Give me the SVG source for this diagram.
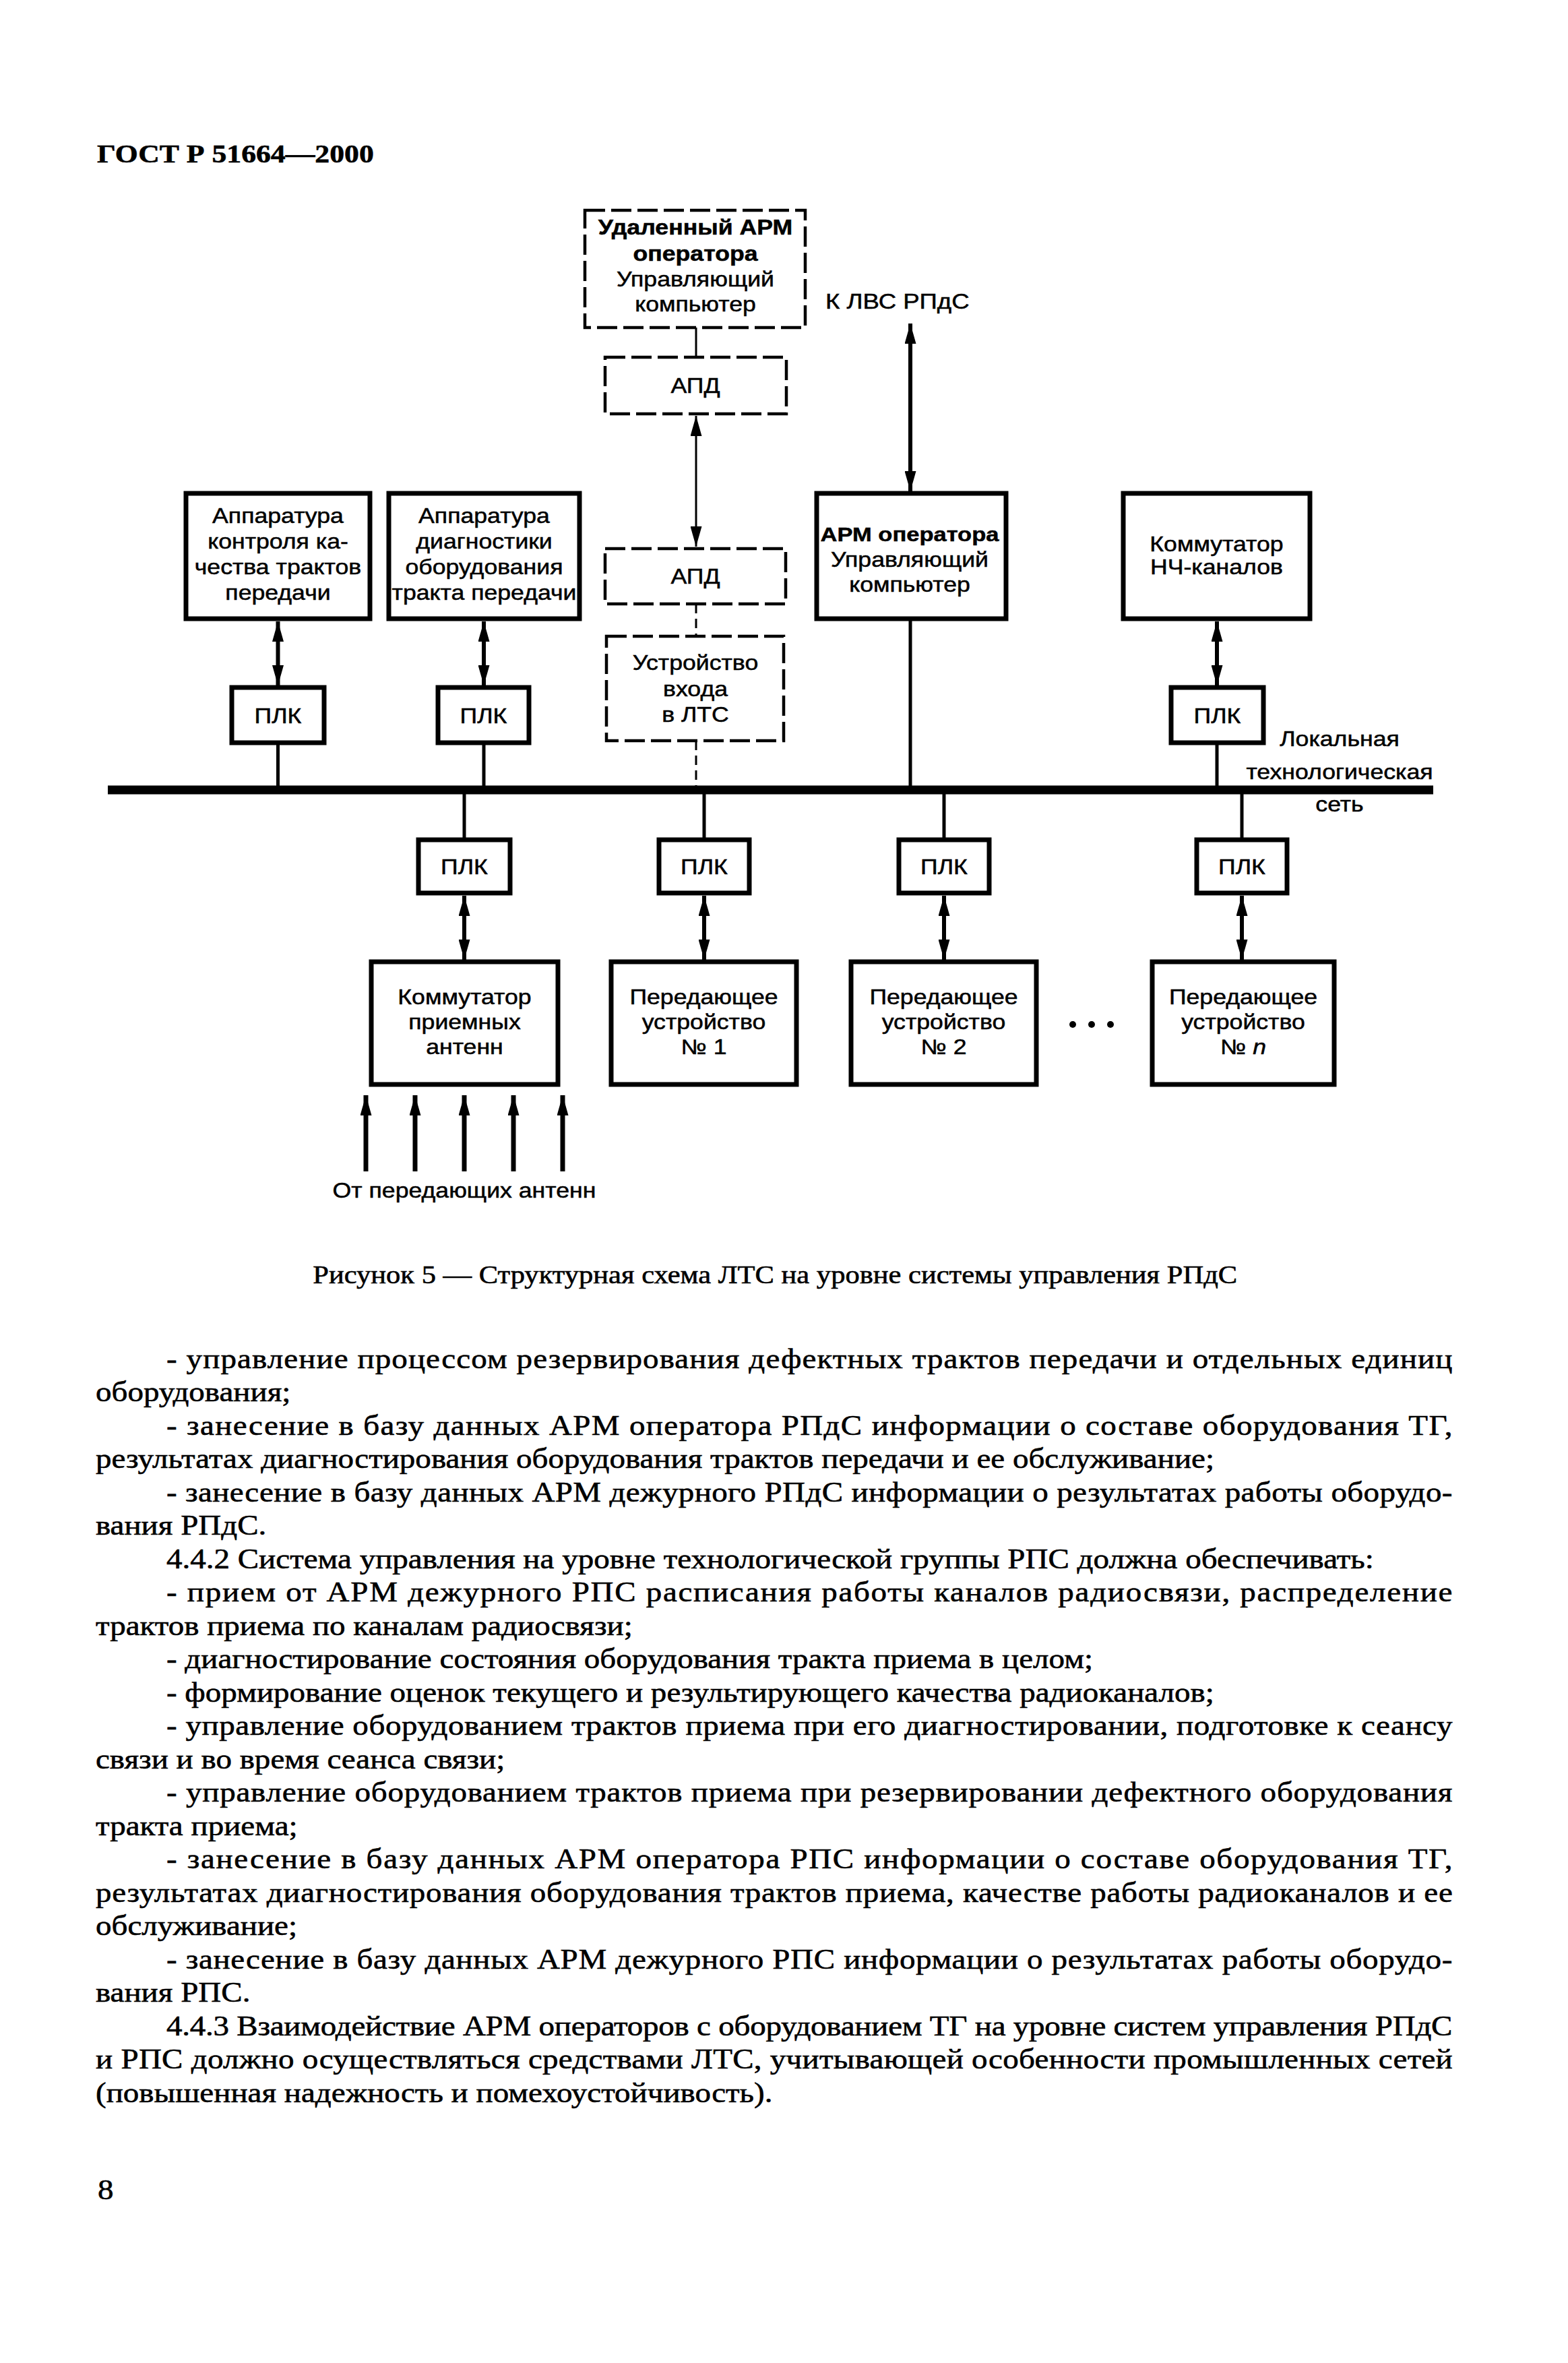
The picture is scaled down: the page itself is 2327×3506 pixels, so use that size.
<svg xmlns="http://www.w3.org/2000/svg" width="2327" height="3506" viewBox="0 0 2327 3506">
<defs>
<style>
.box{fill:#fff;stroke:#000;stroke-width:7}
.dbox{fill:#fff;stroke:#000;stroke-width:4.5;stroke-dasharray:30 9}
.s{font-family:"Liberation Sans",Arial,sans-serif;font-size:31px;text-anchor:middle;fill:#000;stroke:#000;stroke-width:0.5}
.st{font-family:"Liberation Sans",Arial,sans-serif;font-size:31px;fill:#000;stroke:#000;stroke-width:0.5}
.b{font-weight:bold}
.ln{stroke:#000;stroke-width:5;fill:none}
.thin{stroke:#000;stroke-width:3;fill:none}
.dl{stroke:#000;stroke-width:3;stroke-dasharray:14 8;fill:none}
.ar{stroke:#000;stroke-width:6;fill:none}
.ar3{stroke:#000;stroke-width:3;fill:none}
.bus{stroke:#000;stroke-width:13}
.body{font-family:"Liberation Serif","Times New Roman",serif;font-size:42px;fill:#000;stroke:#000;stroke-width:0.6}
</style>
<marker id="ah" markerUnits="userSpaceOnUse" markerWidth="30" markerHeight="17" refX="30" refY="8.5" orient="auto-start-reverse">
<path d="M0,0 L30,8.5 L0,17 Z" fill="#000"/>
</marker>
</defs>
<rect x="0" y="0" width="2327" height="3506" fill="#fff"/>

<g id="title" transform="translate(144 0) scale(1.15 1)">
<text class="body" style="font-weight:bold;font-size:38px" x="0" y="241">ГОСТ Р 51664—2000</text>
</g>

<g id="connectors">
<line class="thin" x1="1033" y1="486" x2="1033" y2="530"/>
<line class="ar3" x1="1033" y1="617" x2="1033" y2="811" marker-start="url(#ah)" marker-end="url(#ah)"/>
<line class="dl" x1="1033" y1="896" x2="1033" y2="944"/>
<line class="dl" x1="1033" y1="1099" x2="1033" y2="1166"/>
<line class="ar" x1="1351" y1="480" x2="1351" y2="729" marker-start="url(#ah)" marker-end="url(#ah)"/>
<line class="ln" x1="1351" y1="918" x2="1351" y2="1166"/>
<line class="ar" x1="412.5" y1="922" x2="412.5" y2="1017" marker-start="url(#ah)" marker-end="url(#ah)"/>
<line class="ar" x1="718" y1="922" x2="718" y2="1017" marker-start="url(#ah)" marker-end="url(#ah)"/>
<line class="ar" x1="1806" y1="922" x2="1806" y2="1017" marker-start="url(#ah)" marker-end="url(#ah)"/>
<line class="ln" x1="412.5" y1="1102" x2="412.5" y2="1166"/>
<line class="ln" x1="718" y1="1102" x2="718" y2="1166"/>
<line class="ln" x1="1806" y1="1102" x2="1806" y2="1166"/>
<line class="ln" x1="689" y1="1178" x2="689" y2="1246"/>
<line class="ln" x1="1045" y1="1178" x2="1045" y2="1246"/>
<line class="ln" x1="1401" y1="1178" x2="1401" y2="1246"/>
<line class="ln" x1="1843" y1="1178" x2="1843" y2="1246"/>
<line class="ar" x1="689" y1="1329" x2="689" y2="1424" marker-start="url(#ah)" marker-end="url(#ah)"/>
<line class="ar" x1="1045" y1="1329" x2="1045" y2="1424" marker-start="url(#ah)" marker-end="url(#ah)"/>
<line class="ar" x1="1401" y1="1329" x2="1401" y2="1424" marker-start="url(#ah)" marker-end="url(#ah)"/>
<line class="ar" x1="1843" y1="1329" x2="1843" y2="1424" marker-start="url(#ah)" marker-end="url(#ah)"/>
<line class="ar" x1="543" y1="1738" x2="543" y2="1625" marker-end="url(#ah)" style="stroke-width:7"/>
<line class="ar" x1="616" y1="1738" x2="616" y2="1625" marker-end="url(#ah)" style="stroke-width:7"/>
<line class="ar" x1="689" y1="1738" x2="689" y2="1625" marker-end="url(#ah)" style="stroke-width:7"/>
<line class="ar" x1="762" y1="1738" x2="762" y2="1625" marker-end="url(#ah)" style="stroke-width:7"/>
<line class="ar" x1="835" y1="1738" x2="835" y2="1625" marker-end="url(#ah)" style="stroke-width:7"/>
</g>

<g id="bus">
<line class="bus" x1="160" y1="1172" x2="2127" y2="1172"/>
</g>

<g id="node-remote-arm">
<rect class="dbox" x="868" y="312" width="327" height="174"/>
<g transform="translate(1032 0) scale(1.15 1)">
<text class="s b" y="348">Удаленный АРМ</text>
<text class="s b" y="387">оператора</text>
<text class="s" y="425">Управляющий</text>
<text class="s" y="462">компьютер</text>
</g>
</g>

<g id="node-apd1">
<rect class="dbox" x="898" y="530" width="269" height="84"/>
<g transform="translate(1032 0) scale(1.15 1)"><text class="s" y="583">АПД</text></g>
</g>

<g id="node-apd2">
<rect class="dbox" x="898" y="814" width="268" height="82"/>
<g transform="translate(1032 0) scale(1.15 1)"><text class="s" y="866">АПД</text></g>
</g>

<g id="node-entry">
<rect class="dbox" x="900" y="944" width="263" height="155"/>
<g transform="translate(1032 0) scale(1.15 1)">
<text class="s" y="994">Устройство</text>
<text class="s" y="1033">входа</text>
<text class="s" y="1071">в ЛТС</text>
</g>
</g>

<g id="label-lvs" transform="translate(1225 0) scale(1.18 1)">
<text class="st" x="0" y="458">К ЛВС РПдС</text>
</g>

<g id="node-quality">
<rect class="box" x="276" y="732" width="273" height="186"/>
<g transform="translate(412.5 0) scale(1.15 1)">
<text class="s" y="776">Аппаратура</text>
<text class="s" y="814">контроля ка-</text>
<text class="s" y="852">чества трактов</text>
<text class="s" y="890">передачи</text>
</g>
</g>

<g id="node-diag">
<rect class="box" x="577" y="732" width="283" height="186"/>
<g transform="translate(718.5 0) scale(1.15 1)">
<text class="s" y="776">Аппаратура</text>
<text class="s" y="814">диагностики</text>
<text class="s" y="852">оборудования</text>
<text class="s" y="890">тракта передачи</text>
</g>
</g>

<g id="node-arm">
<rect class="box" x="1212" y="732" width="281" height="186"/>
<g transform="translate(1350 0) scale(1.15 1)">
<text class="s b" y="803" style="font-size:30px">АРМ оператора</text>
<text class="s" y="841">Управляющий</text>
<text class="s" y="878">компьютер</text>
</g>
</g>

<g id="node-lf-switch">
<rect class="box" x="1667" y="732" width="277" height="186"/>
<g transform="translate(1805.5 0) scale(1.15 1)">
<text class="s" y="818">Коммутатор</text>
<text class="s" y="852">НЧ-каналов</text>
</g>
</g>

<g id="node-plk-t1">
<rect class="box" x="344" y="1020" width="137" height="82"/>
<g transform="translate(412.5 0) scale(1.15 1)"><text class="s" y="1073">ПЛК</text></g>
</g>
<g id="node-plk-t2">
<rect class="box" x="650" y="1020" width="135" height="82"/>
<g transform="translate(717.5 0) scale(1.15 1)"><text class="s" y="1073">ПЛК</text></g>
</g>
<g id="node-plk-t3">
<rect class="box" x="1738" y="1020" width="137" height="82"/>
<g transform="translate(1806.5 0) scale(1.15 1)"><text class="s" y="1073">ПЛК</text></g>
</g>

<g id="label-lts" transform="translate(1988 0) scale(1.15 1)">
<text class="s" y="1107">Локальная</text>
<text class="s" y="1156">технологическая</text>
<text class="s" y="1204">сеть</text>
</g>

<g id="node-plk-b1">
<rect class="box" x="621" y="1246" width="136" height="79"/>
<g transform="translate(689 0) scale(1.15 1)"><text class="s" y="1297">ПЛК</text></g>
</g>
<g id="node-plk-b2">
<rect class="box" x="978" y="1246" width="134" height="79"/>
<g transform="translate(1045 0) scale(1.15 1)"><text class="s" y="1297">ПЛК</text></g>
</g>
<g id="node-plk-b3">
<rect class="box" x="1334" y="1246" width="134" height="79"/>
<g transform="translate(1401 0) scale(1.15 1)"><text class="s" y="1297">ПЛК</text></g>
</g>
<g id="node-plk-b4">
<rect class="box" x="1776" y="1246" width="134" height="79"/>
<g transform="translate(1843 0) scale(1.15 1)"><text class="s" y="1297">ПЛК</text></g>
</g>

<g id="node-rx-switch">
<rect class="box" x="551" y="1427" width="277" height="182"/>
<g transform="translate(689.5 0) scale(1.15 1)">
<text class="s" y="1490">Коммутатор</text>
<text class="s" y="1527">приемных</text>
<text class="s" y="1564">антенн</text>
</g>
</g>
<g id="node-tx1">
<rect class="box" x="907" y="1427" width="275" height="182"/>
<g transform="translate(1044.5 0) scale(1.15 1)">
<text class="s" y="1490">Передающее</text>
<text class="s" y="1527">устройство</text>
<text class="s" y="1564">№ 1</text>
</g>
</g>
<g id="node-tx2">
<rect class="box" x="1263" y="1427" width="275" height="182"/>
<g transform="translate(1400.5 0) scale(1.15 1)">
<text class="s" y="1490">Передающее</text>
<text class="s" y="1527">устройство</text>
<text class="s" y="1564">№ 2</text>
</g>
</g>
<g id="node-txn">
<rect class="box" x="1710" y="1427" width="270" height="182"/>
<g transform="translate(1845 0) scale(1.15 1)">
<text class="s" y="1490">Передающее</text>
<text class="s" y="1527">устройство</text>
<text class="s" y="1564">№ <tspan font-style="italic">n</tspan></text>
</g>
</g>

<g id="ellipsis">
<circle cx="1592" cy="1520" r="5"/>
<circle cx="1620" cy="1520" r="5"/>
<circle cx="1648" cy="1520" r="5"/>
</g>

<g id="label-antennas" transform="translate(689 0) scale(1.15 1)">
<text class="s" y="1777">От передающих антенн</text>
</g>

<g id="caption" transform="scale(1.12 1)">
<text class="body" style="font-size:38px" x="1027" y="1904" text-anchor="middle">Рисунок 5 — Структурная схема ЛТС на уровне системы управления РПдС</text>
</g>

<g id="body-text" transform="scale(1.12 1)">
<text class="body" x="220.5" y="2030" textLength="1704" lengthAdjust="spacing">- управление процессом резервирования дефектных трактов передачи и отдельных единиц</text>
<text class="body" x="126.8" y="2079.5">оборудования;</text>
<text class="body" x="220.5" y="2129" textLength="1704" lengthAdjust="spacing">- занесение в базу данных АРМ оператора РПдС информации о составе оборудования ТГ,</text>
<text class="body" x="126.8" y="2178.5">результатах диагностирования оборудования трактов передачи и ее обслуживание;</text>
<text class="body" x="220.5" y="2228" textLength="1704" lengthAdjust="spacing">- занесение в базу данных АРМ дежурного РПдС информации о результатах работы оборудо-</text>
<text class="body" x="126.8" y="2277.5">вания РПдС.</text>
<text class="body" x="220.5" y="2327">4.4.2 Система управления на уровне технологической группы РПС должна обеспечивать:</text>
<text class="body" x="220.5" y="2376.5" textLength="1704" lengthAdjust="spacing">- прием от АРМ дежурного РПС расписания работы каналов радиосвязи, распределение</text>
<text class="body" x="126.8" y="2426">трактов приема по каналам радиосвязи;</text>
<text class="body" x="220.5" y="2475.5">- диагностирование состояния оборудования тракта приема в целом;</text>
<text class="body" x="220.5" y="2525">- формирование оценок текущего и результирующего качества радиоканалов;</text>
<text class="body" x="220.5" y="2574.5" textLength="1704" lengthAdjust="spacing">- управление оборудованием трактов приема при его диагностировании, подготовке к сеансу</text>
<text class="body" x="126.8" y="2624">связи и во время сеанса связи;</text>
<text class="body" x="220.5" y="2673.5" textLength="1704" lengthAdjust="spacing">- управление оборудованием трактов приема при резервировании дефектного оборудования</text>
<text class="body" x="126.8" y="2723">тракта приема;</text>
<text class="body" x="220.5" y="2772.5" textLength="1704" lengthAdjust="spacing">- занесение в базу данных АРМ оператора РПС информации о составе оборудования ТГ,</text>
<text class="body" x="126.8" y="2822" textLength="1798" lengthAdjust="spacing">результатах диагностирования оборудования трактов приема, качестве работы радиоканалов и ее</text>
<text class="body" x="126.8" y="2871.5">обслуживание;</text>
<text class="body" x="220.5" y="2921" textLength="1704" lengthAdjust="spacing">- занесение в базу данных АРМ дежурного РПС информации о результатах работы оборудо-</text>
<text class="body" x="126.8" y="2970.5">вания РПС.</text>
<text class="body" x="220.5" y="3020" textLength="1704" lengthAdjust="spacing">4.4.3 Взаимодействие АРМ операторов с оборудованием ТГ на уровне систем управления РПдС</text>
<text class="body" x="126.8" y="3069.5" textLength="1798" lengthAdjust="spacing">и РПС должно осуществляться средствами ЛТС, учитывающей особенности промышленных сетей</text>
<text class="body" x="126.8" y="3119">(повышенная надежность и помехоустойчивость).</text>
</g>

<g id="page-number" transform="scale(1.12 1)">
<text class="body" x="129.5" y="3263">8</text>
</g>
</svg>
